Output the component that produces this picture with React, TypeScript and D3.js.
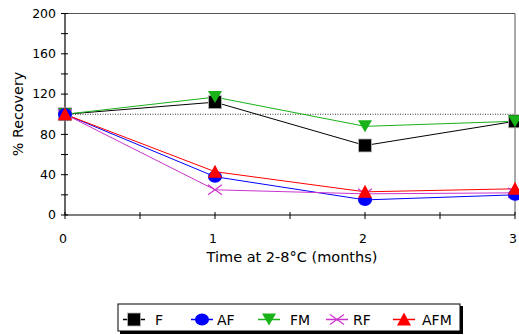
import * as d3 from "d3";
import { useEffect, useRef } from "react";

const months = [0, 1, 2, 3];
const seriesNames = ["F", "AF", "FM", "RF", "AFM"];
const F = [100, 112, 69, 93];
const AF = [100, 38, 15, 20];
const FM = [100, 117, 88, 93];
const RF = [100, 25, 21, 22];
const AFM = [100, 43, 23, 26];
const yTicks = [0, 40, 80, 120, 160, 200];
const colors = ["#000000", "#0000ff", "#19b219", "#cc33cc", "#ff0000"];
const markers = ["square", "circle", "tridown", "cross", "triup"];

function drawMarker(g: any, kind: string, x: number, y: number, color: string) {
  if (kind === "square") {
    g.append("rect").attr("x", x - 6.5).attr("y", y - 6.5).attr("width", 13).attr("height", 13)
      .attr("fill", color).attr("stroke", "#bbb").attr("stroke-width", 0.8);
  } else if (kind === "circle") {
    g.append("ellipse").attr("cx", x).attr("cy", y).attr("rx", 7).attr("ry", 6).attr("fill", color);
  } else if (kind === "tridown") {
    g.append("path").attr("d", `M${x - 7},${y - 6}L${x + 7},${y - 6}L${x},${y + 6}Z`).attr("fill", color);
  } else if (kind === "triup") {
    g.append("path").attr("d", `M${x - 7},${y + 6}L${x + 7},${y + 6}L${x},${y - 7}Z`).attr("fill", color);
  } else if (kind === "cross") {
    g.append("path").attr("d", `M${x - 7},${y - 5}L${x + 7},${y + 5}M${x - 7},${y + 5}L${x + 7},${y - 5}`)
      .attr("stroke", color).attr("stroke-width", 1.2).attr("fill", "none");
  }
}

export default function App() {
  const ref = useRef<SVGSVGElement | null>(null);

  useEffect(() => {
    const svg = d3.select(ref.current);
    svg.selectAll("*").remove();
    const font = "DejaVu Sans, Verdana, sans-serif";
    const data = [F, AF, FM, RF, AFM];

    const x = d3.scaleLinear().domain([0, 3]).range([65, 515]);
    const y = d3.scaleLinear().domain([0, 200]).range([215, 13.5]);

    // frame (top/right)
    svg.append("path")
      .attr("d", `M${x(0)},${y(200)}H${x(3)}V${y(0)}`)
      .attr("fill", "none").attr("stroke", "#555").attr("stroke-width", 1);

    // reference line at 100
    svg.append("line")
      .attr("x1", x(0)).attr("x2", x(3)).attr("y1", y(100)).attr("y2", y(100))
      .attr("stroke", "#000").attr("stroke-width", 0.8).attr("stroke-dasharray", "1,1.5");

    // y axis
    const ya = svg.append("g");
    ya.append("line").attr("x1", x(0)).attr("x2", x(0)).attr("y1", y(0)).attr("y2", y(200))
      .attr("stroke", "#000").attr("stroke-width", 1.2);
    d3.range(0, 201, 20).forEach((v) => {
      ya.append("line").attr("x1", x(0) - 4).attr("x2", x(0) + 3).attr("y1", y(v)).attr("y2", y(v))
        .attr("stroke", "#000").attr("stroke-width", 1);
    });
    yTicks.forEach((v) => {
      ya.append("text").attr("x", x(0) - 9).attr("y", y(v)).attr("dy", "0.35em")
        .attr("text-anchor", "end").attr("font-family", font).attr("font-size", 12.5).text(v);
    });

    // x axis
    const xa = svg.append("g");
    xa.append("line").attr("x1", x(0)).attr("x2", x(3)).attr("y1", y(0)).attr("y2", y(0))
      .attr("stroke", "#000").attr("stroke-width", 1.2);
    d3.range(0, 3.01, 0.5).forEach((v) => {
      xa.append("line").attr("x1", x(v)).attr("x2", x(v)).attr("y1", y(0) - 3).attr("y2", y(0) + 4)
        .attr("stroke", "#000").attr("stroke-width", 1);
    });
    months.forEach((v) => {
      xa.append("text").attr("x", x(v) - 2).attr("y", 243)
        .attr("text-anchor", "middle").attr("font-family", font).attr("font-size", 12.5).text(v);
    });

    svg.append("text").attr("x", 292).attr("y", 262).attr("text-anchor", "middle")
      .attr("font-family", font).attr("font-size", 14.5).text("Time at 2-8°C (months)");
    svg.append("text").attr("transform", "translate(23,114) rotate(-90)").attr("text-anchor", "middle")
      .attr("font-family", font).attr("font-size", 14.3).text("% Recovery");

    const line = d3.line<number>().x((_, i) => x(months[i])).y((d) => y(d));
    data.forEach((vals, si) => {
      svg.append("path").attr("d", line(vals) as string).attr("fill", "none")
        .attr("stroke", colors[si]).attr("stroke-width", 1);
    });
    const order = [0, 2, 3, 1, 4];
    order.forEach((si) => {
      const g = svg.append("g");
      data[si].forEach((v, i) => drawMarker(g, markers[si], x(months[i]), y(v), colors[si]));
    });

    // legend
    const lg = svg.append("g");
    lg.append("rect").attr("x", 120).attr("y", 306).attr("width", 343).attr("height", 28).attr("fill", "#000");
    lg.append("rect").attr("x", 118).attr("y", 304).attr("width", 342).attr("height", 27)
      .attr("fill", "#fff").attr("stroke", "#000").attr("stroke-width", 1);
    const lx = [123, 191, 258, 326, 393];
    const tx = [155, 217, 290, 353, 422];
    seriesNames.forEach((n, i) => {
      const cy = 319.5;
      lg.append("line").attr("x1", lx[i]).attr("x2", lx[i] + 22).attr("y1", cy).attr("y2", cy)
        .attr("stroke", colors[i]).attr("stroke-width", 1.5);
      drawMarker(lg, markers[i], lx[i] + 11, cy, colors[i]);
      lg.append("text").attr("x", tx[i]).attr("y", cy).attr("dy", "0.37em")
        .attr("font-family", font).attr("font-size", 14).text(n);
    });
  }, []);

  return (
    <svg ref={ref} width={519} height={335}
      style={{ position: "absolute", left: 0, top: 0, background: "#fff" }} />
  );
}
